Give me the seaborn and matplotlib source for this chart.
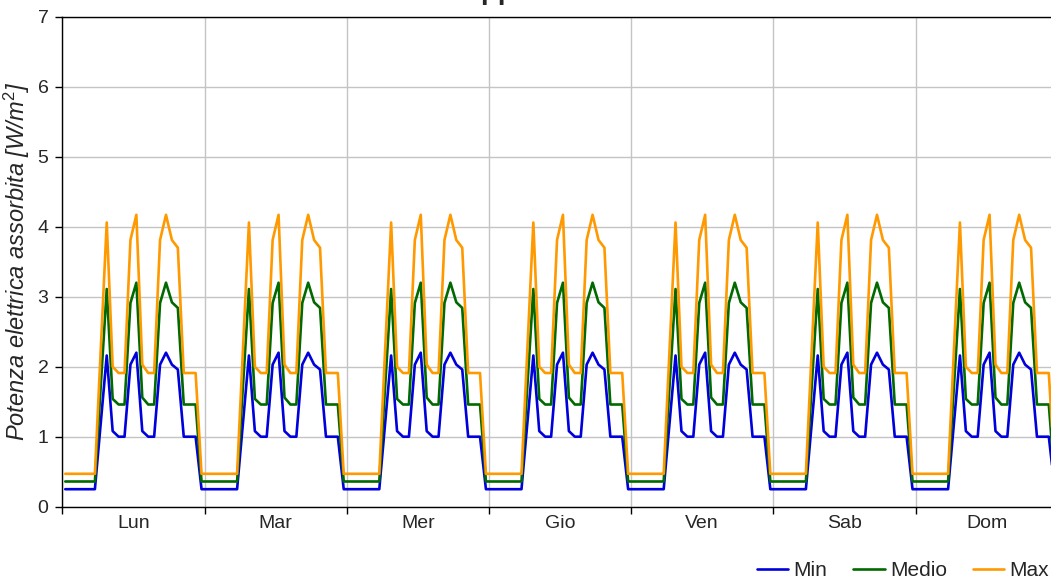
import numpy as np
import pandas as pd
import matplotlib
matplotlib.use("Agg")
import matplotlib.pyplot as plt
import seaborn as sns

# ---- data ----
days = ["Lun", "Mar", "Mer", "Gio", "Ven", "Sab", "Dom"]
series_names = ["Min", "Medio", "Max"]
min_day = [0.25, 0.25, 0.25, 0.25, 0.25, 0.25, 1.20, 2.16, 1.08, 1.00, 1.00, 2.03,
           2.20, 1.08, 1.00, 1.00, 2.03, 2.20, 2.03, 1.96, 1.00, 1.00, 1.00, 0.25]
medio_day = [0.36, 0.36, 0.36, 0.36, 0.36, 0.36, 1.73, 3.11, 1.54, 1.46, 1.46, 2.91,
             3.20, 1.56, 1.46, 1.46, 2.91, 3.20, 2.92, 2.84, 1.46, 1.46, 1.46, 0.36]
max_day = [0.47, 0.47, 0.47, 0.47, 0.47, 0.47, 2.27, 4.06, 2.00, 1.91, 1.91, 3.81,
           4.17, 2.03, 1.91, 1.91, 3.81, 4.17, 3.81, 3.70, 1.91, 1.91, 1.91, 0.47]
colors = ["#0000dd", "#006a00", "#ff9900"]
y_ticks = [0, 1, 2, 3, 4, 5, 6, 7]
title_text = "Apparecchi"
ylabel_text = "Potenza elettrica assorbita [W/m$^2$]"

# ---- build long-form table ----
n_days = len(days)
profiles = {"Min": min_day, "Medio": medio_day, "Max": max_day}
rows = []
for name in series_names:
    vals = list(profiles[name]) * n_days
    for i, v in enumerate(vals):
        rows.append({"ora": i, "valore": v, "serie": name})
df = pd.DataFrame(rows)

sns.set_theme(style="white")
plt.rcParams["font.family"] = ["Liberation Sans", "DejaVu Sans"]
plt.rcParams["mathtext.fontset"] = "custom"
plt.rcParams["mathtext.it"] = "Liberation Sans:italic"
plt.rcParams["mathtext.rm"] = "Liberation Sans"

FS = 14
W, H = 1051, 579
fig = plt.figure(figsize=(W / 100, H / 100), dpi=100)
left_px, right_px, top_px, bot_px = 62.3, 1057.7, 16.7, 506.7
ax = fig.add_axes([left_px / W, 1 - bot_px / H, (right_px - left_px) / W, (bot_px - top_px) / H])

sns.lineplot(data=df, x="ora", y="valore", hue="serie", hue_order=series_names,
             palette=colors, linewidth=1.9, ax=ax, legend=True)

n_hours = 24 * n_days
ax.set_xlim(-0.5, n_hours - 0.5)
ax.set_ylim(0, 7)
ax.set_yticks(y_ticks)
ax.set_yticklabels([str(t) for t in y_ticks], fontsize=FS)

# day boundaries (major) and day labels (minor)
ax.set_xticks([-0.5 + 24 * k for k in range(n_days + 1)])
ax.set_xticklabels([""] * (n_days + 1))
ax.set_xticks([11.5 + 24 * k for k in range(n_days)], minor=True)
ax.set_xticklabels(days, minor=True, fontsize=FS)
ax.tick_params(axis="x", which="major", direction="out", length=5, width=1, color="black", bottom=True)
ax.tick_params(axis="x", which="minor", length=0, pad=6)
ax.tick_params(axis="y", direction="out", length=5, width=1, color="black", left=True, pad=5)

ax.grid(True, which="major", color="#c4c4c4", linewidth=1)
ax.set_axisbelow(True)
for s in ["left", "bottom", "top"]:
    ax.spines[s].set_color("black")
    ax.spines[s].set_linewidth(1)
ax.spines["right"].set_visible(False)

ax.set_xlabel("")
ax.set_ylabel(ylabel_text, fontsize=17, fontstyle="italic", labelpad=4)

# legend
handles, labels = ax.get_legend_handles_labels()
ax.get_legend().remove()
fig.legend(handles, labels, loc="center left", bbox_to_anchor=(757 / W, 1 - 571 / H),
           ncol=3, frameon=False, fontsize=15, handlelength=1.5, handletextpad=0.25,
           columnspacing=1.25, borderpad=0, borderaxespad=0)

# title (mostly above the visible area, as in the reference)
fig.text(461 / W, 1 + 1.2 / H, title_text, fontsize=20, fontweight="bold",
         ha="left", va="baseline")

fig.savefig("out.png", dpi=100)
